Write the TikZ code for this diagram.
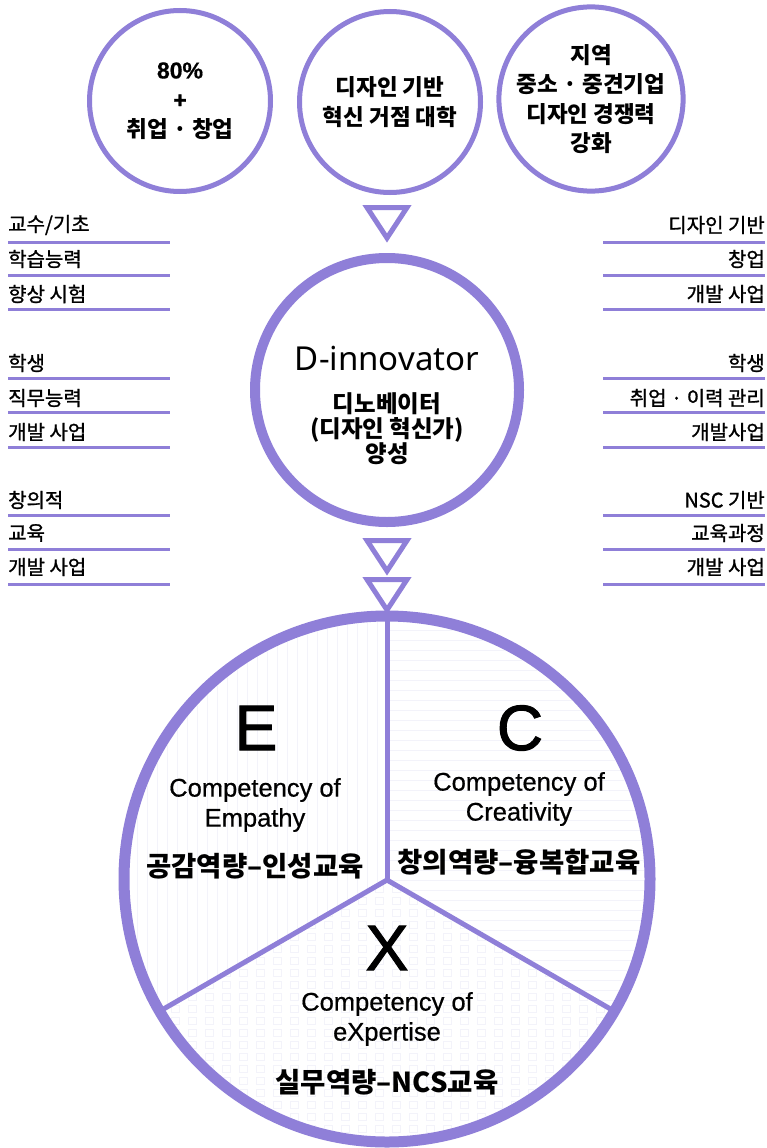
\documentclass[tikz,border=0pt]{standalone}
\usepackage{fontspec}
\setmainfont{Noto Sans CJK KR}
\newfontfamily\kr{Noto Sans CJK KR}
\newfontfamily\krm[FakeBold=1.2]{Noto Sans CJK KR}
\newfontfamily\lat[FakeBold=0.6]{Liberation Sans}
\newfontfamily\latb[FakeBold=1.6]{Liberation Sans}
\newfontfamily\nsans{Noto Sans}
\definecolor{purp}{RGB}{143,127,216}
\definecolor{faint}{RGB}{243,243,250}
\tikzset{
  topcirc/.style={circle, draw=purp, line width=5pt, minimum size=181pt, inner sep=0pt, align=center,
    font=\kr\bfseries\fontsize{22.5}{29.5}\selectfont},
  sidelab/.style={inner sep=0pt, font=\krm\fontsize{20}{22}\selectfont},
  sideline/.style={draw=purp, line width=3pt},
  tri/.style={draw=purp, line width=5pt, line join=miter},
  divider/.style={draw=purp, line width=5pt},
  bigletter/.style={inner sep=0pt, font=\latb\fontsize{64}{64}\selectfont},
  engtext/.style={inner sep=0pt, align=center, font=\lat\fontsize{25.5}{30}\selectfont},
  kortext/.style={inner sep=0pt, font=\kr\bfseries\fontsize{27.5}{30}\selectfont},
  stripe/.style={draw=faint, line width=0.9pt}
}
\begin{document}
\begin{tikzpicture}[x=1pt,y=-1pt]
\useasboundingbox (0,0) rectangle (766,1148);
\fill[white] (0,0) rectangle (766,1148);

% top circles
\node[topcirc] (c1) at (180,101) {{\lat\fontsize{23}{29.5}\selectfont 80\%}\\{\lat\fontsize{23}{29.5}\selectfont +}\\취업 · 창업};
\node[topcirc] (c2) at (390,102) {디자인 기반\\혁신 거점 대학};
\node[topcirc] (c3) at (591,99) {지역\\중소 · 중견기업\\디자인 경쟁력\\강화};

% triangles
\newcommand{\downtri}[1]{\draw[tri] (367,#1+2.5) -- (407,#1+2.5) -- (387,#1+33) -- cycle;}
\downtri{205}
\downtri{538}
\downtri{577}

% central circle
\node[circle, draw=purp, line width=10pt, minimum size=264pt, inner sep=0pt] (dc) at (387,390) {};
\node[inner sep=0pt, font=\nsans\fontsize{33}{36}\selectfont] (dname) at (387,359) {D-innovator};
\node[inner sep=0pt, align=center, font=\kr\bfseries\fontsize{23.5}{25}\selectfont] (dkor) at (387,429) {디노베이터\\(디자인 혁신가)\\양성};

% side labels left
\foreach \t/\y [count=\i] in {{교수/기초}/225,{학습능력}/259,{향상 시험}/294,{학생}/363,{직무능력}/398,{개발 사업}/432,{창의적}/500,{교육}/533,{개발 사업}/567}{
  \node[sidelab, anchor=west] (l\i) at (8,\y) {\t};
}
% side labels right
\foreach \t/\y [count=\i] in {{디자인 기반}/225,{창업}/259,{개발 사업}/294,{학생}/363,{취업 · 이력 관리}/398,{개발사업}/432,{NSC 기반}/500,{교육과정}/533,{개발 사업}/567}{
  \node[sidelab, anchor=east] (r\i) at (765,\y) {\t};
}
\foreach \y in {242,275.5,309.5,378.5,412.5,447,515,549.5,584}{
  \draw[sideline] (8,\y) -- (170,\y);
  \draw[sideline] (603,\y) -- (765,\y);
}

% big circle background patterns
\coordinate (O) at (387,880);
\begin{scope}
  \clip (387,879) circle[radius=257];
  \begin{scope}
    \clip (O) -- (387,590) -- (40,590) -- (40.6,1080) -- cycle;
    \foreach \x in {127,137,...,387} \draw[stripe] (\x,600) -- (\x,1100);
  \end{scope}
  \begin{scope}
    \clip (O) -- (387,590) -- (733,590) -- (733.4,1080) -- cycle;
    \foreach \y in {620,630,...,1080} \draw[stripe] (387,\y) -- (660,\y);
  \end{scope}
  \begin{scope}
    \clip (O) -- (40.6,1080) -- (40,1160) -- (733,1160) -- (733.4,1080) -- cycle;
    \foreach \x in {120,137,...,660} \foreach \y in {885,897,...,1150} \draw[draw=faint, line width=0.8pt] (\x,\y) rectangle ++(8,7);
  \end{scope}
\end{scope}

% big circle
\draw[draw=purp, line width=11pt] (387,879) circle[radius=263];
\coordinate (T) at (387,617);
\coordinate (BL) at (159.2,1011.5);
\coordinate (BR) at (614.8,1011.5);
\draw[divider] (T) -- (O);
\draw[divider] (BL) -- (O) -- (BR);

% E section
\node[bigletter] (E) at (256,728) {E};
\node[engtext] (Eeng) at (255,805) {Competency of\\Empathy};
\node[kortext] (Ekor) at (255,866) {공감역량–인성교육};
% C section
\node[bigletter] (C) at (520,728) {C};
\node[engtext] (Ceng) at (519,799) {Competency of\\Creativity};
\node[kortext] (Ckor) at (519,862) {창의역량–융복합교육};
% X section
\node[bigletter] (X) at (387,948) {X};
\node[engtext] (Xeng) at (387,1019) {Competency of\\eXpertise};
\node[kortext] (Xkor) at (387,1082) {실무역량–NCS교육};
\end{tikzpicture}
\end{document}
